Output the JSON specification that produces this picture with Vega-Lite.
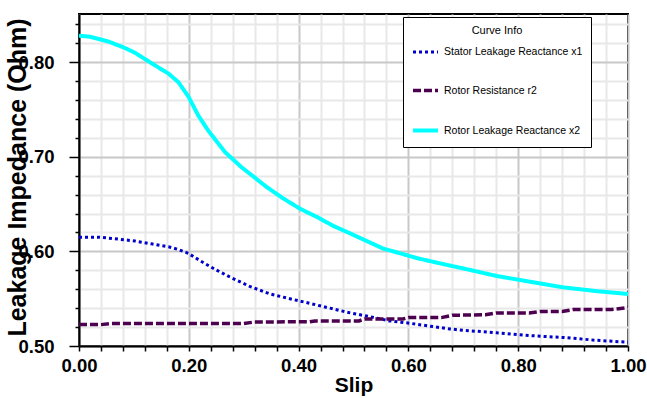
{
  "$schema": "https://vega.github.io/schema/vega-lite/v6.json",
  "width": 549,
  "height": 332,
  "autosize": {"type": "none"},
  "padding": {"left": 79, "top": 14, "right": 19, "bottom": 52},
  "background": "white",
  "config": {
    "view": {"stroke": "black", "strokeWidth": 2},
    "axis": {
      "domainColor": "black",
      "domainWidth": 2,
      "tickColor": "black",
      "tickWidth": 1.5,
      "gridWidth": 2,
      "labelFont": "Liberation Sans, Arial, sans-serif",
      "labelFontWeight": "bold",
      "labelFontSize": 18.5,
      "labelColor": "black",
      "labelOverlap": false,
      "labelFlush": false,
      "titleColor": "black"
    }
  },
  "data": {
    "values": [
      {"slip": 0.0, "value": 0.615, "series": "Stator Leakage Reactance x1"},
      {"slip": 0.038, "value": 0.615, "series": "Stator Leakage Reactance x1"},
      {"slip": 0.072, "value": 0.613, "series": "Stator Leakage Reactance x1"},
      {"slip": 0.102, "value": 0.611, "series": "Stator Leakage Reactance x1"},
      {"slip": 0.132, "value": 0.608, "series": "Stator Leakage Reactance x1"},
      {"slip": 0.163, "value": 0.605, "series": "Stator Leakage Reactance x1"},
      {"slip": 0.181, "value": 0.602, "series": "Stator Leakage Reactance x1"},
      {"slip": 0.199, "value": 0.598, "series": "Stator Leakage Reactance x1"},
      {"slip": 0.224, "value": 0.589, "series": "Stator Leakage Reactance x1"},
      {"slip": 0.248, "value": 0.581, "series": "Stator Leakage Reactance x1"},
      {"slip": 0.278, "value": 0.572, "series": "Stator Leakage Reactance x1"},
      {"slip": 0.311, "value": 0.563, "series": "Stator Leakage Reactance x1"},
      {"slip": 0.348, "value": 0.555, "series": "Stator Leakage Reactance x1"},
      {"slip": 0.384, "value": 0.55, "series": "Stator Leakage Reactance x1"},
      {"slip": 0.421, "value": 0.545, "series": "Stator Leakage Reactance x1"},
      {"slip": 0.457, "value": 0.54, "series": "Stator Leakage Reactance x1"},
      {"slip": 0.494, "value": 0.535, "series": "Stator Leakage Reactance x1"},
      {"slip": 0.53, "value": 0.531, "series": "Stator Leakage Reactance x1"},
      {"slip": 0.566, "value": 0.5265, "series": "Stator Leakage Reactance x1"},
      {"slip": 0.603, "value": 0.524, "series": "Stator Leakage Reactance x1"},
      {"slip": 0.639, "value": 0.521, "series": "Stator Leakage Reactance x1"},
      {"slip": 0.676, "value": 0.518, "series": "Stator Leakage Reactance x1"},
      {"slip": 0.7, "value": 0.5166, "series": "Stator Leakage Reactance x1"},
      {"slip": 0.761, "value": 0.514, "series": "Stator Leakage Reactance x1"},
      {"slip": 0.821, "value": 0.511, "series": "Stator Leakage Reactance x1"},
      {"slip": 0.882, "value": 0.509, "series": "Stator Leakage Reactance x1"},
      {"slip": 0.943, "value": 0.506, "series": "Stator Leakage Reactance x1"},
      {"slip": 1.0, "value": 0.504, "series": "Stator Leakage Reactance x1"},

      {"slip": 0.0, "value": 0.5226, "series": "Rotor Resistance r2"},
      {"slip": 0.04, "value": 0.5226, "series": "Rotor Resistance r2"},
      {"slip": 0.06, "value": 0.5237, "series": "Rotor Resistance r2"},
      {"slip": 0.3, "value": 0.5237, "series": "Rotor Resistance r2"},
      {"slip": 0.32, "value": 0.5254, "series": "Rotor Resistance r2"},
      {"slip": 0.42, "value": 0.5256, "series": "Rotor Resistance r2"},
      {"slip": 0.43, "value": 0.5265, "series": "Rotor Resistance r2"},
      {"slip": 0.51, "value": 0.5265, "series": "Rotor Resistance r2"},
      {"slip": 0.52, "value": 0.5286, "series": "Rotor Resistance r2"},
      {"slip": 0.59, "value": 0.5286, "series": "Rotor Resistance r2"},
      {"slip": 0.6, "value": 0.53, "series": "Rotor Resistance r2"},
      {"slip": 0.66, "value": 0.53, "series": "Rotor Resistance r2"},
      {"slip": 0.68, "value": 0.5325, "series": "Rotor Resistance r2"},
      {"slip": 0.74, "value": 0.533, "series": "Rotor Resistance r2"},
      {"slip": 0.76, "value": 0.535, "series": "Rotor Resistance r2"},
      {"slip": 0.82, "value": 0.535, "series": "Rotor Resistance r2"},
      {"slip": 0.84, "value": 0.5365, "series": "Rotor Resistance r2"},
      {"slip": 0.88, "value": 0.5365, "series": "Rotor Resistance r2"},
      {"slip": 0.9, "value": 0.5385, "series": "Rotor Resistance r2"},
      {"slip": 0.97, "value": 0.5385, "series": "Rotor Resistance r2"},
      {"slip": 1.0, "value": 0.5406, "series": "Rotor Resistance r2"},

      {"slip": 0.0, "value": 0.828, "series": "Rotor Leakage Reactance x2"},
      {"slip": 0.02, "value": 0.827, "series": "Rotor Leakage Reactance x2"},
      {"slip": 0.053, "value": 0.822, "series": "Rotor Leakage Reactance x2"},
      {"slip": 0.084, "value": 0.815, "series": "Rotor Leakage Reactance x2"},
      {"slip": 0.102, "value": 0.81, "series": "Rotor Leakage Reactance x2"},
      {"slip": 0.132, "value": 0.799, "series": "Rotor Leakage Reactance x2"},
      {"slip": 0.163, "value": 0.788, "series": "Rotor Leakage Reactance x2"},
      {"slip": 0.181, "value": 0.779, "series": "Rotor Leakage Reactance x2"},
      {"slip": 0.199, "value": 0.764, "series": "Rotor Leakage Reactance x2"},
      {"slip": 0.217, "value": 0.744, "series": "Rotor Leakage Reactance x2"},
      {"slip": 0.235, "value": 0.728, "series": "Rotor Leakage Reactance x2"},
      {"slip": 0.266, "value": 0.705, "series": "Rotor Leakage Reactance x2"},
      {"slip": 0.296, "value": 0.689, "series": "Rotor Leakage Reactance x2"},
      {"slip": 0.318, "value": 0.679, "series": "Rotor Leakage Reactance x2"},
      {"slip": 0.342, "value": 0.668, "series": "Rotor Leakage Reactance x2"},
      {"slip": 0.372, "value": 0.656, "series": "Rotor Leakage Reactance x2"},
      {"slip": 0.403, "value": 0.645, "series": "Rotor Leakage Reactance x2"},
      {"slip": 0.433, "value": 0.6365, "series": "Rotor Leakage Reactance x2"},
      {"slip": 0.463, "value": 0.627, "series": "Rotor Leakage Reactance x2"},
      {"slip": 0.494, "value": 0.619, "series": "Rotor Leakage Reactance x2"},
      {"slip": 0.524, "value": 0.611, "series": "Rotor Leakage Reactance x2"},
      {"slip": 0.554, "value": 0.603, "series": "Rotor Leakage Reactance x2"},
      {"slip": 0.585, "value": 0.598, "series": "Rotor Leakage Reactance x2"},
      {"slip": 0.615, "value": 0.593, "series": "Rotor Leakage Reactance x2"},
      {"slip": 0.645, "value": 0.589, "series": "Rotor Leakage Reactance x2"},
      {"slip": 0.676, "value": 0.585, "series": "Rotor Leakage Reactance x2"},
      {"slip": 0.7, "value": 0.582, "series": "Rotor Leakage Reactance x2"},
      {"slip": 0.761, "value": 0.574, "series": "Rotor Leakage Reactance x2"},
      {"slip": 0.821, "value": 0.568, "series": "Rotor Leakage Reactance x2"},
      {"slip": 0.882, "value": 0.562, "series": "Rotor Leakage Reactance x2"},
      {"slip": 0.943, "value": 0.558, "series": "Rotor Leakage Reactance x2"},
      {"slip": 1.0, "value": 0.555, "series": "Rotor Leakage Reactance x2"}
    ]
  },
  "mark": {"type": "line", "clip": true},
  "encoding": {
    "x": {
      "field": "slip",
      "type": "quantitative",
      "scale": {"domain": [0, 1], "nice": false, "zero": false},
      "axis": {
        "title": "Slip",
        "titleFont": "Liberation Sans, Arial, sans-serif",
        "titleFontWeight": "bold",
        "titleFontSize": 21,
        "titleY": 45,
        "titleBaseline": "alphabetic",
        "values": [0, 0.04, 0.08, 0.12, 0.16, 0.2, 0.24, 0.28, 0.32, 0.36, 0.4, 0.44, 0.48, 0.52, 0.56, 0.6, 0.64, 0.68, 0.72, 0.76, 0.8, 0.84, 0.88, 0.92, 0.96, 1.0],
        "labelExpr": "abs(datum.value*5-round(datum.value*5))<0.001 ? format(datum.value,'.2f') : ''",
        "labelPadding": 5,
        "tickSize": 5,
        "gridColor": {"condition": {"test": "abs(datum.value*5-round(datum.value*5))<0.001", "value": "#c8c8c8"}, "value": "#e8e8e8"}
      }
    },
    "y": {
      "field": "value",
      "type": "quantitative",
      "scale": {"domain": [0.5, 0.851], "nice": false, "zero": false},
      "axis": {
        "title": "Leakage Impedance (Ohm)",
        "titleFont": "Liberation Sans, Arial, sans-serif",
        "titleFontWeight": "bold",
        "titleFontSize": 25,
        "titleX": -54,
        "titleY": 163,
        "titleAngle": -90,
        "titleAlign": "center",
        "titleBaseline": "alphabetic",
        "values": [0.5, 0.52, 0.54, 0.56, 0.58, 0.6, 0.62, 0.64, 0.66, 0.68, 0.7, 0.72, 0.74, 0.76, 0.78, 0.8, 0.82, 0.84],
        "labelExpr": "abs(datum.value*10-round(datum.value*10))<0.001 ? format(datum.value,'.2f') : ''",
        "labelPadding": 15,
        "tickSize": {"condition": {"test": "abs(datum.value*10-round(datum.value*10))<0.001", "value": 10}, "value": 4},
        "gridColor": {"condition": {"test": "abs(datum.value*10-round(datum.value*10))<0.001", "value": "#c8c8c8"}, "value": "#e8e8e8"}
      }
    },
    "color": {
      "field": "series",
      "type": "nominal",
      "scale": {
        "domain": ["Stator Leakage Reactance x1", "Rotor Resistance r2", "Rotor Leakage Reactance x2"],
        "range": ["#0000cc", "#4d0050", "#00ffff"]
      },
      "legend": {
        "title": "Curve Info",
        "orient": "none",
        "legendX": 324,
        "legendY": 3,
        "direction": "vertical",
        "titleAnchor": "middle",
        "titleFont": "Liberation Sans, Arial, sans-serif",
        "titleFontWeight": "normal",
        "titleFontSize": 11,
        "titleColor": "black",
        "titlePadding": 2,
        "labelFont": "Liberation Sans, Arial, sans-serif",
        "labelFontSize": 10.5,
        "labelColor": "black",
        "labelOffset": 4,
        "labelLimit": 300,
        "symbolType": "stroke",
        "symbolSize": 625,
        "symbolStrokeWidth": 3,
        "rowPadding": 18,
        "padding": 8,
        "strokeColor": "black",
        "fillColor": "white"
      }
    },
    "strokeDash": {
      "field": "series",
      "type": "nominal",
      "scale": {
        "domain": ["Stator Leakage Reactance x1", "Rotor Resistance r2", "Rotor Leakage Reactance x2"],
        "range": [[3, 3], [8, 3], [1, 0]]
      },
      "legend": {"title": "Curve Info"}
    },
    "strokeWidth": {
      "field": "series",
      "type": "nominal",
      "scale": {
        "domain": ["Stator Leakage Reactance x1", "Rotor Resistance r2", "Rotor Leakage Reactance x2"],
        "range": [3, 4, 5]
      },
      "legend": null
    }
  }
}
